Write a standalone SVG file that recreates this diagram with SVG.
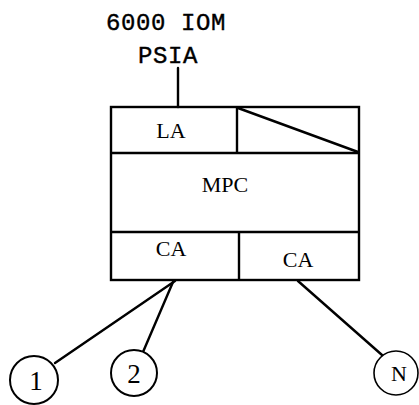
<svg xmlns="http://www.w3.org/2000/svg" width="419" height="405" viewBox="0 0 419 405">
<style>
.ln{stroke:#000;stroke-width:2.4;fill:none;stroke-linecap:round}
.bx{stroke:#000;stroke-width:2.4;fill:none}
.ci{stroke:#000;stroke-width:2;fill:#fff}
.tt{font-family:"Liberation Mono","Courier New",monospace;font-size:24px;fill:#000;letter-spacing:0.6px;stroke:#000;stroke-width:0.4}
.lb{font-family:"Liberation Serif","Times New Roman",serif;font-size:22px;fill:#000;text-anchor:middle}
</style>
<rect width="419" height="405" fill="#fff"/>
<g id="title">
<text class="tt" x="106" y="30">6000 IOM</text>
<text class="tt" x="138" y="63">PSIA</text>
</g>
<g id="connectors">
<line class="ln" x1="178" y1="68" x2="178" y2="107"/>
<line class="ln" x1="175" y1="281" x2="55" y2="363"/>
<line class="ln" x1="173" y1="282" x2="143" y2="352"/>
<line class="ln" x1="298" y1="281" x2="382" y2="355"/>
</g>
<g id="unit">
<rect class="bx" x="111" y="107" width="248" height="173"/>
<line class="bx" x1="111" y1="153" x2="359" y2="153"/>
<line class="bx" x1="111" y1="232" x2="359" y2="232"/>
<line class="bx" x1="237" y1="107" x2="237" y2="153"/>
<line class="bx" x1="239" y1="232" x2="239" y2="280"/>
<line class="ln" x1="238" y1="108" x2="358" y2="152"/>
</g>
<g id="LA"><text class="lb" x="171" y="138">LA</text></g>
<g id="MPC"><text class="lb" x="225" y="192">MPC</text></g>
<g id="CA1"><text class="lb" x="171" y="256">CA</text></g>
<g id="CA2"><text class="lb" x="298" y="267">CA</text></g>
<g id="node1"><circle class="ci" cx="34" cy="380" r="24"/><text class="lb" x="36" y="390" style="font-size:27px">1</text></g>
<g id="node2"><circle class="ci" cx="134" cy="373" r="23"/><text class="lb" x="134" y="383" style="font-size:27px">2</text></g>
<g id="nodeN"><circle class="ci" cx="396" cy="373" r="22" style="stroke-width:1.6"/><text class="lb" x="399" y="381" style="font-size:22px">N</text></g>
</svg>
